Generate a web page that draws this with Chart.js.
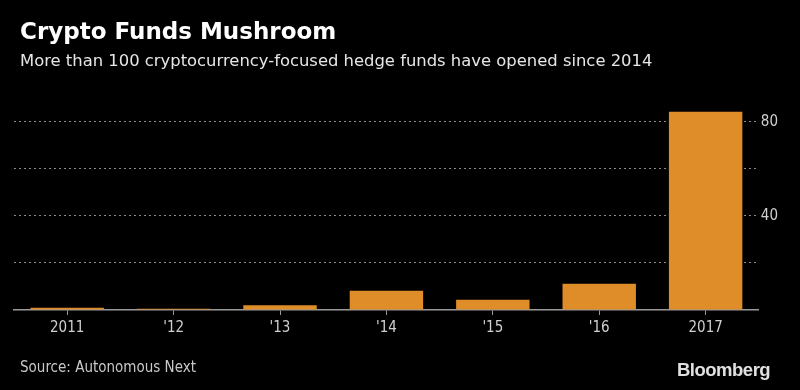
<!DOCTYPE html>
<html>
<head>
<meta charset="utf-8">
<script src="https://cdn.jsdelivr.net/npm/chart.js@4"></script>
<style>
   html, body { margin: 0; padding: 0; background: #000; }
   #wrap { position: relative; width: 800px; height: 390px; overflow: hidden; }
   #chart { position: absolute; left: 0; top: 0; }
   .txt { position: absolute; white-space: nowrap; }
   #title { left: 20px; top: 18px; font: bold 23px "DejaVu Sans", sans-serif; color: #fff; }
   #subtitle { left: 20px; top: 51px; font: 16.4px "DejaVu Sans", sans-serif; color: #e6e6e6; }
   #source { left: 20px; top: 358px; font: 15px "DejaVu Sans Condensed", "Liberation Sans Narrow", sans-serif; color: #c8c8c8; }
   #brand { left: 677px; top: 359px; font: bold 18.5px "Liberation Sans", Arial, sans-serif; color: #e0e0e0; letter-spacing: -0.5px; }
</style>
</head>
<body>
<div id="wrap">
   <canvas id="chart" width="800" height="390"></canvas>
   <div class="txt" id="title">Crypto Funds Mushroom</div>
   <div class="txt" id="subtitle">More than 100 cryptocurrency-focused hedge funds have opened since 2014</div>
   <div class="txt" id="source">Source: Autonomous Next</div>
   <div class="txt" id="brand">Bloomberg</div>
</div>
<script>
   // Data
   const years  = ["2011", "'12", "'13", "'14", "'15", "'16", "2017"];
   const funds  = [1, 0.5, 2, 8.2, 4.4, 11.2, 84.3];
   const yTicks = [20, 40, 60, 80];
   const yLabels = [40, 80];

   const barColor  = "#df8d28";
   const textColor = "#cfcfcf";
   const axisColor = "#9a9a9a";

   new Chart(document.getElementById("chart"), {
      type: "bar",
      data: {
         labels: years,
         datasets: [{
            data: funds,
            backgroundColor: barColor,
            borderWidth: 0,
            barPercentage: 0.69,
            categoryPercentage: 1
         }]
      },
      options: {
         responsive: false,
         animation: false,
         layout: { padding: { left: 14, right: 20, top: 103, bottom: 49 } },
         plugins: {
            legend: { display: false },
            tooltip: { enabled: false }
         },
         scales: {
            x: {
               offset: true,
               grid: {
                  offset: false,
                  drawOnChartArea: false,
                  drawTicks: true,
                  tickLength: 5,
                  color: axisColor
               },
               border: { color: axisColor, width: 1.5 },
               ticks: {
                  color: textColor,
                  padding: 4,
                  font: { family: "'DejaVu Sans Condensed', 'Liberation Sans Narrow', sans-serif", size: 15 }
               }
            },
            y: {
               position: "right",
               min: 0,
               max: 88,
               afterBuildTicks: axis => {
                  axis.ticks = [0].concat(yTicks).map(v => ({ value: v }));
               },
               grid: {
                  drawTicks: false,
                  color: ctx => ctx.tick && ctx.tick.value === 0 ? "rgba(0,0,0,0)" : "#8a8a8a",
                  lineWidth: 1
               },
               border: { display: false, dash: [2, 3] },
               ticks: {
                  color: textColor,
                  padding: 2,
                  font: { family: "'DejaVu Sans Condensed', 'Liberation Sans Narrow', sans-serif", size: 15 },
                  callback: v => yLabels.includes(v) ? v : ""
               }
            }
         }
      }
   });
</script>
</body>
</html>
